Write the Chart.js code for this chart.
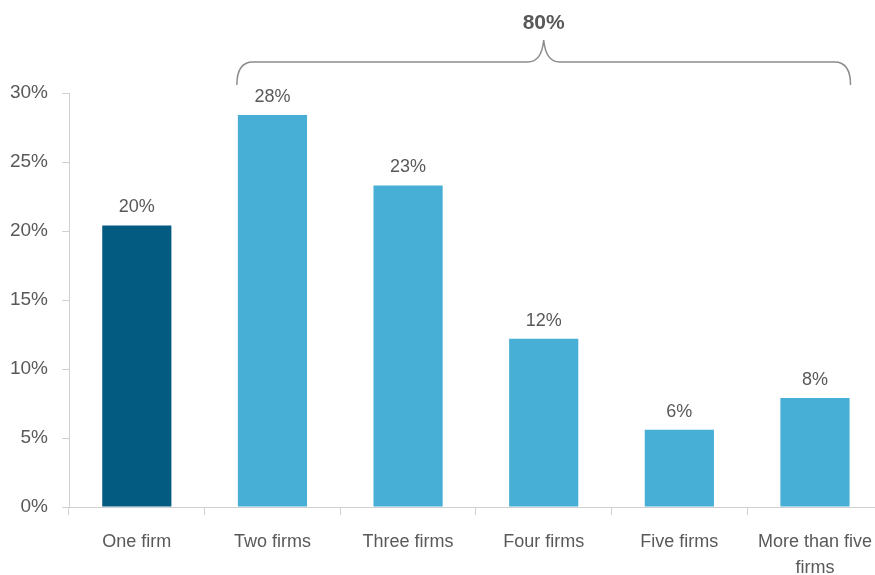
<!DOCTYPE html>
<html><head><meta charset="utf-8">
<script src="https://cdn.jsdelivr.net/npm/chart.js@4/dist/chart.umd.min.js"></script>
<style>
html,body{margin:0;padding:0;background:#fff;overflow:hidden;}
#wrap{width:886px;height:575px;position:relative;}
</style></head>
<body><div id="wrap"><canvas id="c"></canvas></div>
<script>
const categories = ['One firm','Two firms','Three firms','Four firms','Five firms',['More than five','firms']];
const shares = [20.4, 28.4, 23.3, 12.2, 5.6, 7.9];
const barColors = ['#045B81','#47AFD6','#47AFD6','#47AFD6','#47AFD6','#47AFD6'];
const yTicks = [0,5,10,15,20,25,30];
const bracketLabel = '80%';
const bracketFrom = 1, bracketTo = 5;

const FONT = "'Liberation Sans Narrow', 'Liberation Sans', Arial, sans-serif";
const GRAY = '#595959';

const valueLabels = {
  id: 'valueLabels',
  afterDatasetsDraw(chart){
    const ctx = chart.ctx;
    const meta = chart.getDatasetMeta(0);
    ctx.save();
    ctx.font = '18px ' + FONT;
    ctx.fillStyle = GRAY;
    ctx.textAlign = 'center';
    ctx.textBaseline = 'bottom';
    meta.data.forEach((el,i)=>{
      ctx.fillText(Math.round(shares[i]) + '%', el.x, el.y - 9);
    });
    ctx.restore();
  }
};

const bracket = {
  id: 'bracket',
  afterDraw(chart){
    const ctx = chart.ctx;
    const meta = chart.getDatasetMeta(0);
    const a = meta.data[bracketFrom], b = meta.data[bracketTo];
    const x0 = a.x - a.width/2 - 1, x1 = b.x + b.width/2 + 1;
    const xm = (x0 + x1)/2;
    const yEnd = chart.chartArea.top - 8, yLine = chart.chartArea.top - 31, yPeak = chart.chartArea.top - 53;
    const r = 16;
    ctx.save();
    ctx.strokeStyle = '#8c8c8c';
    ctx.lineWidth = 1.5;
    ctx.beginPath();
    ctx.moveTo(x0, yEnd);
    ctx.quadraticCurveTo(x0, yLine, x0 + r, yLine);
    ctx.lineTo(xm - r, yLine);
    ctx.quadraticCurveTo(xm - 2, yLine, xm, yPeak);
    ctx.quadraticCurveTo(xm + 2, yLine, xm + r, yLine);
    ctx.lineTo(x1 - r, yLine);
    ctx.quadraticCurveTo(x1, yLine, x1, yEnd);
    ctx.stroke();
    ctx.font = 'bold 21px ' + FONT;
    ctx.fillStyle = GRAY;
    ctx.textAlign = 'center';
    ctx.textBaseline = 'middle';
    ctx.fillText(bracketLabel, xm, yPeak - 17);
    ctx.restore();
  }
};

new Chart(document.getElementById('c'), {
  type: 'bar',
  data: {
    labels: categories,
    datasets: [{ data: shares, backgroundColor: barColors, borderWidth: 0, barPercentage: 0.51, categoryPercentage: 1.0 }]
  },
  options: {
    responsive: true,
    maintainAspectRatio: false,
    animation: false,
    layout: { padding: { top: 93, right: 0, left: 0, bottom: 0 } },
    plugins: { legend: { display: false }, tooltip: { enabled: false } },
    scales: {
      x: {
        offset: true,
        grid: { display: true, drawOnChartArea: false, drawTicks: true, tickLength: 8, offset: true, color: '#d0d0d0' },
        border: { display: true, color: '#d0d0d0', width: 1 },
        ticks: { color: GRAY, font: { family: FONT, size: 18, lineHeight: 1.45 }, padding: 14, maxRotation: 0, autoSkip: false },
        afterFit(s){ s.height = 68; }
      },
      y: {
        min: 0, max: 30,
        afterBuildTicks(s){ s.ticks = yTicks.map(v=>({value:v})); },
        grid: { display: true, drawOnChartArea: false, drawTicks: true, tickLength: 7, color: '#d0d0d0' },
        border: { display: true, color: '#d0d0d0', width: 1 },
        ticks: { color: GRAY, font: { family: FONT, size: 19 }, padding: 14, callback: v => v + '%' },
        afterFit(s){ s.width = 69; }
      }
    }
  },
  plugins: [valueLabels, bracket]
});
</script></body></html>
